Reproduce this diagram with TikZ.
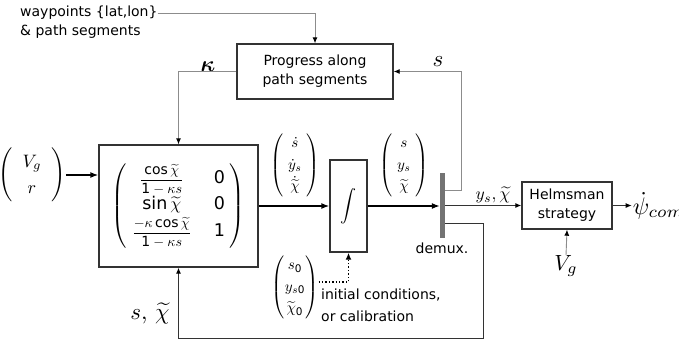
\documentclass[tikz,border=0pt]{standalone}
\usepackage{amsmath}
\usepackage{graphicx}
\usepackage{fontspec}
\setmainfont{DejaVu Sans}
\usetikzlibrary{arrows.meta}
\newcommand\mbx[2]{\scalebox{#1}{$#2$}}
\newcommand\tallp[2]{\vphantom{\rule[-#1pt]{0pt}{#2pt}}}
\newcommand\sfd[1]{\text{#1}}
\tikzset{
  box/.style={draw=black!80,line width=1.4pt,inner sep=0pt},
  tx/.style={font=\fontsize{14}{19}\selectfont,inner sep=0pt},
  mth/.style={inner sep=0pt},
  fat/.style={line width=1.4pt,-{Latex[length=8pt,width=6pt]}},
  gline/.style={draw=black!45,line width=0.9pt,-{Latex[length=6pt,width=5pt,color=black]}},
  dline/.style={draw=black!80,line width=1pt,-{Latex[length=6pt,width=5pt,color=black]}},
}
\begin{document}
\begin{tikzpicture}[x=1pt,y=-1pt]
\useasboundingbox (0,0) rectangle (679,341);
% texts top-left
\node[tx,anchor=west] (wp1) at (20,13) {waypoints \{lat,lon\}};
\node[tx,anchor=west] (wp2) at (20,32) {\& path segments};
% progress box
\node[box,tx,minimum width=156pt,minimum height=55pt,align=center] (prog) at (315,71.5) {Progress along\\path segments};
% system box
\node[box,minimum width=159pt,minimum height=122pt] (sys) at (178.5,206)
 {\mbx{1.75}{\left(\tallp{21}{46}\;\begin{matrix} \scalebox{0.8}{$\dfrac{\cos\widetilde\chi}{\sfd{1}-\kappa s}$} & \;\sfd{0}\\ \sin\widetilde\chi & \;\sfd{0}\\[1pt] \scalebox{0.8}{$\dfrac{-\kappa\cos\widetilde\chi}{\sfd{1}-\kappa s}$} & \;\sfd{1}\end{matrix}\;\right)}};
% input vector
\node[mth] (vin) at (32,175) {\mbx{1.8}{\renewcommand\arraystretch{1.2}\left(\tallp{14}{33}\;\;\begin{matrix} V_g\\ r\end{matrix}\;\;\right)}};
% integrator
\node[box,minimum width=37pt,minimum height=92pt] (int) at (348.5,206) {\mbx{1.6}{\displaystyle\int}};
% vectors
\node[mth] (v1) at (295,165) {\mbx{1.5}{\renewcommand\arraystretch{1.2}\left(\tallp{19}{43}\;\begin{matrix}\dot s\\ \dot y_s\\ \dot{\widetilde\chi}\end{matrix}\;\right)}};
\node[mth] (v2) at (404,165) {\mbx{1.5}{\renewcommand\arraystretch{1.2}\left(\tallp{19}{43}\;\begin{matrix} s\\ y_s\\ \widetilde\chi\end{matrix}\;\right)}};
\node[mth] (v0) at (295,287) {\mbx{1.5}{\renewcommand\arraystretch{1.2}\left(\tallp{19}{43}\begin{matrix} s_{\sfd{0}}\\ y_{s\sfd{0}}\\ \widetilde\chi_{\sfd{0}}\end{matrix}\right)}};
% demux
\node[fill=black!55,minimum width=5pt,minimum height=65pt,inner sep=0pt] (dmx) at (442.5,205.5) {};
\node[tx] (dlab) at (442,248) {demux.};
% helmsman
\node[box,tx,minimum width=90pt,minimum height=47pt,align=center] (hel) at (567,205.5) {Helmsman\\strategy};
\node[mth] (vg) at (566,266) {\mbx{2.2}{V_g}};
% labels
\node[mth] (kap) at (208,67) {\mbx{2.2}{\boldsymbol{\kappa}}};
\node[mth] (slab) at (438,62) {\mbx{2.3}{s}};
\node[mth] (ychi) at (493,195) {\mbx{1.75}{y_s,\widetilde\chi}};
\node[mth] (schi) at (150,313) {\mbx{2.3}{s,\,\widetilde\chi}};
\node[tx,anchor=west] (ic1) at (321,295) {initial conditions,};
\node[tx,anchor=west] (ic2) at (321,316) {or calibration};
% connectors
\draw[gline] (wp1.east) -| (prog.north);
\draw[gline] (prog.west) -| (sys.north);
\draw[fat] (vin.east) -- (vin.east -| sys.west);
\draw[fat] (sys.east) -- (int.west);
\draw[fat] (int.east) -- (int.east -| dmx.west);
\draw[gline] ([yshift=15.5pt]dmx.east) -- ++(16,0) |- (prog.east);
\draw[dline] ([yshift=-17.5pt]dmx.east) -| ++(38,115) -| (sys.south);
\draw[dline] (dmx.east) -- (hel.west);
\draw[dline] (hel.east) -- ++(19,0) coordinate (out);
\node[mth,anchor=west] (psi) at ([xshift=1pt]out) {\mbx{2.4}{\dot\psi_{com}}};
\draw[gline] (vg.north) -- (hel.south);
\draw[line width=1.4pt,dotted,-{Latex[length=7pt,width=6pt]}] ([yshift=5pt]v0.east) -| (int.south);
\end{tikzpicture}
\end{document}
